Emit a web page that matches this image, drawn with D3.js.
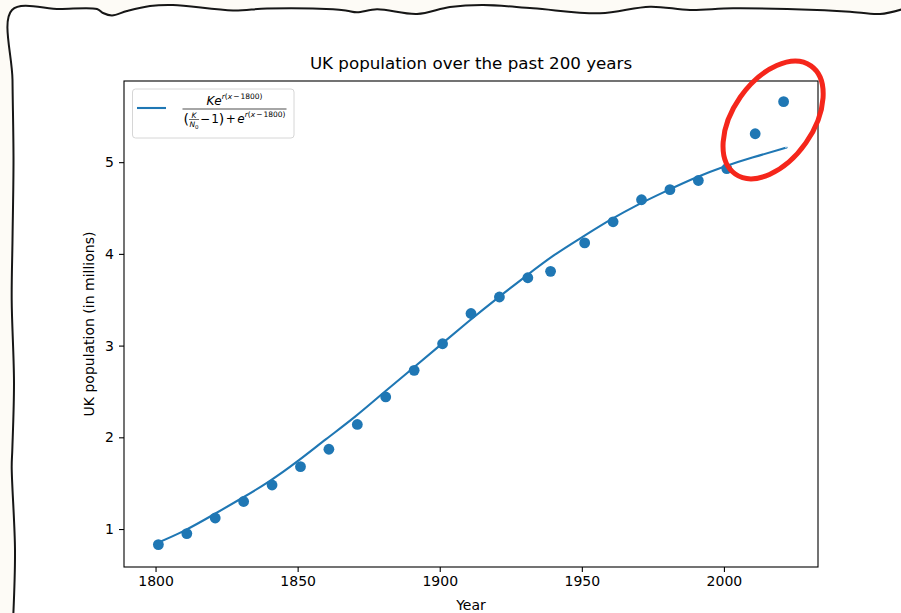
<!DOCTYPE html>
<html>
<head>
<meta charset="utf-8">
<script src="https://cdn.jsdelivr.net/npm/d3@7"></script>
<style>
  html, body { margin: 0; padding: 0; background: #fdfbf6; }
  svg { display: block; }
  text { font-family: "DejaVu Sans", sans-serif; fill: #000; }
</style>
</head>
<body>
<svg id="chart" width="901" height="613"></svg>
<script>
// Census years and UK population (plotted in the chart's own units)
const years = [1801, 1811, 1821, 1831, 1841, 1851, 1861, 1871, 1881, 1891, 1901, 1911,
               1921, 1931, 1939, 1951, 1961, 1971, 1981, 1991, 2001, 2011, 2021];
const population = [0.83, 0.95, 1.12, 1.30, 1.48, 1.68, 1.87, 2.14, 2.44, 2.73, 3.02, 3.35,
                    3.53, 3.74, 3.81, 4.12, 4.35, 4.59, 4.70, 4.80, 4.93, 5.31, 5.66];

// Fitted logistic curve, sampled every ten years
const fitYears = [1800, 1810, 1820, 1830, 1840, 1850, 1860, 1870, 1880, 1890, 1900, 1910,
                  1920, 1930, 1940, 1950, 1960, 1970, 1980, 1990, 2000, 2010, 2020, 2022];
const fitValues = [0.84, 0.98, 1.15, 1.33, 1.52, 1.74, 1.98, 2.22, 2.48, 2.74, 3.00, 3.26,
                   3.51, 3.75, 3.98, 4.18, 4.37, 4.54, 4.69, 4.83, 4.95, 5.05, 5.14, 5.16];

// Axis limits and ticks
const xLimits = [1788.9, 2033.1];
const yLimits = [0.586, 5.885];
const xTicks = [1800, 1850, 1900, 1950, 2000];
const yTicks = [1, 2, 3, 4, 5];

const titleText = "UK population over the past 200 years";
const xLabel = "Year";
const yLabel = "UK population (in millions)";

const blue = "#1f77b4";
const svg = d3.select("#chart");

// ---- hand-drawn page frame ----
const topEdge = [[12,10],[60,9],[97,9],[103,13],[112,15.5],[127,11],[150,6],[173,5],[233,10.5],
  [267,8.5],[333,9.3],[347,10.7],[357,12.3],[377,9.3],[417,14],[450,7],[483,5],[533,8.3],
  [600,13.3],[650,6.7],[690,10],[733,8.3],[817,10],[850,11.7],[880,14],[903,9]];
const leftEdge = [[12,10],[12.5,80],[13.5,160],[12.5,240],[11.7,300],[14,383],[12.3,450],
  [11.7,467],[15,550],[13.3,615]];

const framePts = topEdge.slice().reverse().concat(leftEdge.slice(1));
const frameLine = d3.line().curve(d3.curveCatmullRom.alpha(0.5));
// white paper inside the frame
svg.append("path")
  .attr("d", frameLine(framePts) + "L905,615L905,5Z")
  .attr("fill", "#ffffff");
svg.append("path")
  .attr("d", frameLine(framePts))
  .attr("fill", "none").attr("stroke", "#161616").attr("stroke-width", 2)
  .attr("stroke-linejoin", "round");

// ---- plot area ----
const plot = { left: 124, top: 81, right: 818, bottom: 567 };
const x = d3.scaleLinear().domain(xLimits).range([plot.left, plot.right]);
const y = d3.scaleLinear().domain(yLimits).range([plot.bottom, plot.top]);

const g = svg.append("g");

// fitted curve
g.append("path")
  .datum(fitYears.map((yr, i) => [yr, fitValues[i]]))
  .attr("d", d3.line().x(d => x(d[0])).y(d => y(d[1])).curve(d3.curveNatural))
  .attr("fill", "none").attr("stroke", blue).attr("stroke-width", 2.1);

// census points
g.selectAll("circle.pt")
  .data(years.map((yr, i) => [yr, population[i]]))
  .join("circle")
  .attr("class", "pt")
  .attr("cx", d => x(d[0])).attr("cy", d => y(d[1]))
  .attr("r", 5.4).attr("fill", blue);

// axes
const xAxis = d3.axisBottom(x).tickValues(xTicks).tickFormat(d3.format("d")).tickSizeOuter(0).tickSize(5).tickPadding(4);
const yAxis = d3.axisLeft(y).tickValues(yTicks).tickFormat(d3.format("d")).tickSizeOuter(0).tickSize(5).tickPadding(5);

const gx = svg.append("g").attr("transform", `translate(0,${plot.bottom})`).call(xAxis);
const gy = svg.append("g").attr("transform", `translate(${plot.left},0)`).call(yAxis);
[gx, gy].forEach(a => {
  a.select(".domain").remove();
  a.selectAll(".tick line").attr("stroke", "#000").attr("stroke-width", 1.1);
  a.selectAll(".tick text").attr("font-size", 14).attr("font-family", "DejaVu Sans").attr("fill", "#000");
});

// spines
svg.append("rect")
  .attr("x", plot.left).attr("y", plot.top)
  .attr("width", plot.right - plot.left).attr("height", plot.bottom - plot.top)
  .attr("fill", "none").attr("stroke", "#000").attr("stroke-width", 1.1);

// title and axis labels
svg.append("text").attr("x", (plot.left + plot.right) / 2).attr("y", 69)
  .attr("text-anchor", "middle").attr("font-size", 16.7).text(titleText);
svg.append("text").attr("x", (plot.left + plot.right) / 2).attr("y", 610)
  .attr("text-anchor", "middle").attr("font-size", 14).text(xLabel);
svg.append("text").attr("transform", `translate(94,${(plot.top + plot.bottom) / 2}) rotate(-90)`)
  .attr("text-anchor", "middle").attr("font-size", 14).text(yLabel);

// ---- legend with the logistic formula ----
const leg = svg.append("g");
leg.append("rect").attr("x", 132.5).attr("y", 89).attr("width", 161.5).attr("height", 49)
  .attr("rx", 3).attr("fill", "#fff").attr("stroke", "#d6d6d6").attr("stroke-width", 1);
leg.append("line").attr("x1", 137).attr("x2", 166).attr("y1", 108).attr("y2", 108)
  .attr("stroke", blue).attr("stroke-width", 2.1);

// lay out a run of text pieces left to right, returning a group
function run(parent, pieces, baseline) {
  const grp = parent.append("g");
  let cx = 0;
  pieces.forEach(p => {
    if (p.frac) {
      // small stacked fraction K / N0
      const fg = grp.append("g");
      const top = fg.append("text").attr("font-size", 7.5).attr("font-style", "italic")
        .attr("y", baseline - 5).text(p.frac[0]);
      const bot = fg.append("text").attr("font-size", 7.5).attr("y", baseline + 4);
      bot.append("tspan").attr("font-style", "italic").text(p.frac[1]);
      bot.append("tspan").attr("font-size", 5.5).attr("dy", 1.5).text(p.frac[2]);
      const w = Math.max(top.node().getComputedTextLength(), bot.node().getComputedTextLength()) + 1;
      top.attr("x", cx + (w - top.node().getComputedTextLength()) / 2);
      bot.attr("x", cx + (w - bot.node().getComputedTextLength()) / 2);
      fg.append("line").attr("x1", cx).attr("x2", cx + w)
        .attr("y1", baseline - 3.5).attr("y2", baseline - 3.5)
        .attr("stroke", "#000").attr("stroke-width", 0.6);
      cx += w + (p.gap || 0);
      return;
    }
    const t = grp.append("text")
      .attr("x", cx).attr("y", baseline + (p.dy || 0))
      .attr("font-size", p.size || 12)
      .attr("font-style", p.italic ? "italic" : null)
      .text(p.t);
    cx += t.node().getComputedTextLength() + (p.gap || 0);
  });
  return { grp, width: cx };
}

const sup = [
  { t: "r", italic: true, size: 7.5, dy: -6 },
  { t: "(", size: 7.5, dy: -6 },
  { t: "x", italic: true, size: 7.5, dy: -6, gap: 1 },
  { t: "\u2212", size: 7.5, dy: -6, gap: 1 },
  { t: "1800", size: 7.5, dy: -6 },
  { t: ")", size: 7.5, dy: -6 }
];
const numer = run(leg, [{ t: "K", italic: true }, { t: "e", italic: true }].concat(sup), 104.5);
const denom = run(leg, [
  { t: "(", size: 14, dy: 1 },
  { frac: ["K", "N", "0"], gap: 1 },
  { t: "\u2212", gap: 1 },
  { t: "1" },
  { t: ")", size: 14, dy: 1, gap: 1.5 },
  { t: "+", gap: 1.5 },
  { t: "e", italic: true }
].concat(sup), 123);

const fracLeft = 182, fracRight = 287, fracMid = (fracLeft + fracRight) / 2;
numer.grp.attr("transform", `translate(${fracMid - numer.width / 2},0)`);
denom.grp.attr("transform", `translate(${fracMid - denom.width / 2},0)`);
leg.append("line").attr("x1", fracMid - denom.width / 2 - 1).attr("x2", fracMid + denom.width / 2 + 1)
  .attr("y1", 109).attr("y2", 109).attr("stroke", "#000").attr("stroke-width", 0.7);

// ---- red hand-drawn ring around the last two census points ----
const ringCenter = [2017.3, 5.46];
svg.append("ellipse")
  .attr("cx", 0).attr("cy", 0).attr("rx", 40).attr("ry", 66)
  .attr("transform", `translate(${x(ringCenter[0])},${y(ringCenter[1])}) rotate(35)`)
  .attr("fill", "none").attr("stroke", "#f5261b").attr("stroke-width", 5);
</script>
</body>
</html>
